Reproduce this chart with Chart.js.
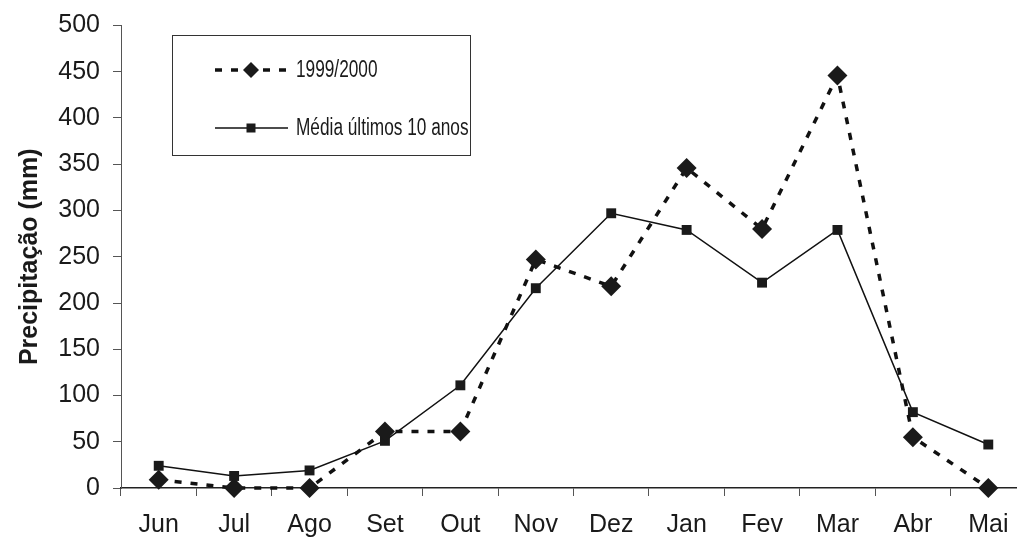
<!DOCTYPE html>
<html>
<head>
<meta charset="utf-8">
<script src="https://cdn.jsdelivr.net/npm/chart.js@4.4.1/dist/chart.umd.min.js"></script>
<style>
  html, body { margin: 0; padding: 0; background: #ffffff; overflow: hidden; }
  #wrap { width: 1036px; height: 539px; position: relative; }
</style>
</head>
<body>
<div id="wrap"><canvas id="c"></canvas></div>
<script>
// Monthly rainfall (mm), June to May
const months = ['Jun', 'Jul', 'Ago', 'Set', 'Out', 'Nov', 'Dez', 'Jan', 'Fev', 'Mar', 'Abr', 'Mai'];
const season1999 = [9, 0, 0, 61, 61, 247, 218, 346, 280, 446, 55, 0];
const tenYearMean = [24, 13, 19, 51, 111, 216, 297, 279, 222, 279, 82, 47];
const seriesNames = ['1999/2000', 'Média últimos 10 anos'];
const yTitle = 'Precipitação (mm)';

const FONT = '"Liberation Sans", Arial, Helvetica, sans-serif';
const INK = '#1a1a1a';

// Boxed legend drawn inside the plot area, top left
const boxedLegend = {
  id: 'boxedLegend',
  afterDraw(chart) {
    const ctx = chart.ctx;
    ctx.save();
    ctx.strokeStyle = '#333';
    ctx.lineWidth = 1;
    ctx.fillStyle = '#ffffff';
    ctx.fillRect(172.5, 35.5, 298, 120);
    ctx.strokeRect(172.5, 35.5, 298, 120);

    const rows = [70, 128];
    chart.data.datasets.forEach((ds, i) => {
      const y = rows[i];
      ctx.beginPath();
      ctx.strokeStyle = ds.borderColor;
      ctx.lineWidth = ds.borderWidth;
      ctx.setLineDash(ds.borderDash || []);
      ctx.moveTo(215, y);
      ctx.lineTo(288, y);
      ctx.stroke();
      ctx.setLineDash([]);
      ctx.fillStyle = ds.pointBackgroundColor;
      const cx = 251;
      if (ds.pointStyle === 'rectRot') {
        const r = 8;
        ctx.beginPath();
        ctx.moveTo(cx, y - r); ctx.lineTo(cx + r, y); ctx.lineTo(cx, y + r); ctx.lineTo(cx - r, y);
        ctx.closePath(); ctx.fill();
      } else {
        ctx.fillRect(cx - 4.5, y - 4.5, 9, 9);
      }
      ctx.fillStyle = INK;
      ctx.font = '23px ' + FONT;
      ctx.textBaseline = 'middle';
      ctx.textAlign = 'left';
      ctx.save();
      ctx.translate(296, y + 1);
      ctx.scale(0.75, 1);
      ctx.fillText(ds.label, 0, 0);
      ctx.restore();
    });
    ctx.restore();
  }
};

new Chart(document.getElementById('c'), {
  type: 'line',
  data: {
    labels: months,
    datasets: [
      {
        label: seriesNames[0],
        data: season1999,
        borderColor: '#111',
        borderWidth: 3.5,
        borderDash: [7, 9],
        pointStyle: 'rectRot',
        pointRadius: 10,
        pointBackgroundColor: INK,
        pointBorderColor: INK,
        pointBorderWidth: 0,
        tension: 0,
        clip: false,
        order: 0
      },
      {
        label: seriesNames[1],
        data: tenYearMean,
        borderColor: '#111',
        borderWidth: 1.5,
        pointStyle: 'rect',
        pointRadius: 7,
        pointBackgroundColor: INK,
        pointBorderColor: INK,
        pointBorderWidth: 0,
        tension: 0,
        clip: false,
        order: 1
      }
    ]
  },
  options: {
    responsive: true,
    maintainAspectRatio: false,
    animation: false,
    events: [],
    layout: { padding: { top: 12, right: 3, left: 0, bottom: 0 } },
    plugins: {
      legend: { display: false },
      tooltip: { enabled: false }
    },
    scales: {
      x: {
        type: 'category',
        offset: true,
        afterFit(scale) { scale.height = 51; },
        grid: { display: true, offset: true, drawOnChartArea: false, drawTicks: true, tickLength: 8, color: '#555', lineWidth: 1 },
        border: { display: true, color: '#222', width: 1.5 },
        ticks: { color: INK, font: { family: FONT, size: 25 }, padding: 14, maxRotation: 0, autoSkip: false }
      },
      y: {
        min: 0,
        max: 500,
        afterFit(scale) { scale.width = 121; },
        grid: { display: true, drawOnChartArea: false, drawTicks: true, tickLength: 8, color: '#555', lineWidth: 1 },
        border: { display: true, color: '#555', width: 1 },
        ticks: { stepSize: 50, color: INK, font: { family: FONT, size: 25, lineHeight: 1.0 }, padding: 13 },
        title: { display: true, text: yTitle, color: INK, font: { family: FONT, size: 25, weight: 'bold' }, padding: { top: 15, bottom: 0 } }
      }
    }
  },
  plugins: [boxedLegend]
});
</script>
</body>
</html>
